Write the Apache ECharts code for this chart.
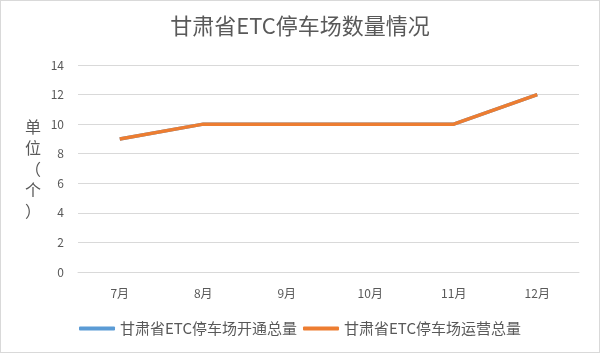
<!DOCTYPE html>
<html><head><meta charset="utf-8">
<script src="https://cdn.jsdelivr.net/npm/echarts@6/dist/echarts.min.js"></script>
<style>html,body{margin:0;padding:0;background:#fff}#c{width:600px;height:353px;box-sizing:border-box;border:1px solid #d9d9d9}</style>
</head><body><div id="c"></div>
<script>
const categories = ['7月','8月','9月','10月','11月','12月'];
const openTotal = [9,10,10,10,10,12];
const operTotal = [9,10,10,10,10,12];
const seriesNames = ['甘肃省ETC停车场开通总量','甘肃省ETC停车场运营总量'];
const chart = echarts.init(document.getElementById('c'));
const font = '"Microsoft YaHei","Noto Sans CJK SC",sans-serif';
chart.setOption({
  animation:false,
  textStyle:{fontFamily:font},
  title:{text:'甘肃省ETC停车场数量情况',left:'center',top:9,textStyle:{fontSize:22,fontWeight:'normal',color:'#595959',fontFamily:font}},
  grid:{left:77,right:20,top:64,bottom:80},
  legend:{bottom:11,left:'center',itemWidth:36,itemHeight:4,itemGap:6,icon:'roundRect',textStyle:{fontSize:15,color:'#595959',fontFamily:font},data:seriesNames},
  xAxis:{type:'category',data:categories,boundaryGap:true,axisLine:{lineStyle:{color:'#d9d9d9'}},axisTick:{show:false},axisLabel:{color:'#595959',fontSize:12,margin:15}},
  yAxis:{type:'value',min:0,max:14,interval:2,axisLine:{show:false},axisTick:{show:false},splitLine:{lineStyle:{color:'#d9d9d9'}},axisLabel:{color:'#595959',fontSize:12,margin:14},
    name:'单\n位\n（\n个\n）',nameLocation:'middle',nameRotate:0,nameGap:37,nameTextStyle:{fontSize:16,color:'#595959',lineHeight:21,fontFamily:font}},
  series:[
    {name:seriesNames[0],type:'line',data:openTotal,symbol:'none',lineStyle:{width:3.5,color:'#5B9BD5'},itemStyle:{color:'#5B9BD5'}},
    {name:seriesNames[1],type:'line',data:operTotal,symbol:'none',lineStyle:{width:3.5,color:'#ED7D31'},itemStyle:{color:'#ED7D31'}}
  ]
});
</script></body></html>
